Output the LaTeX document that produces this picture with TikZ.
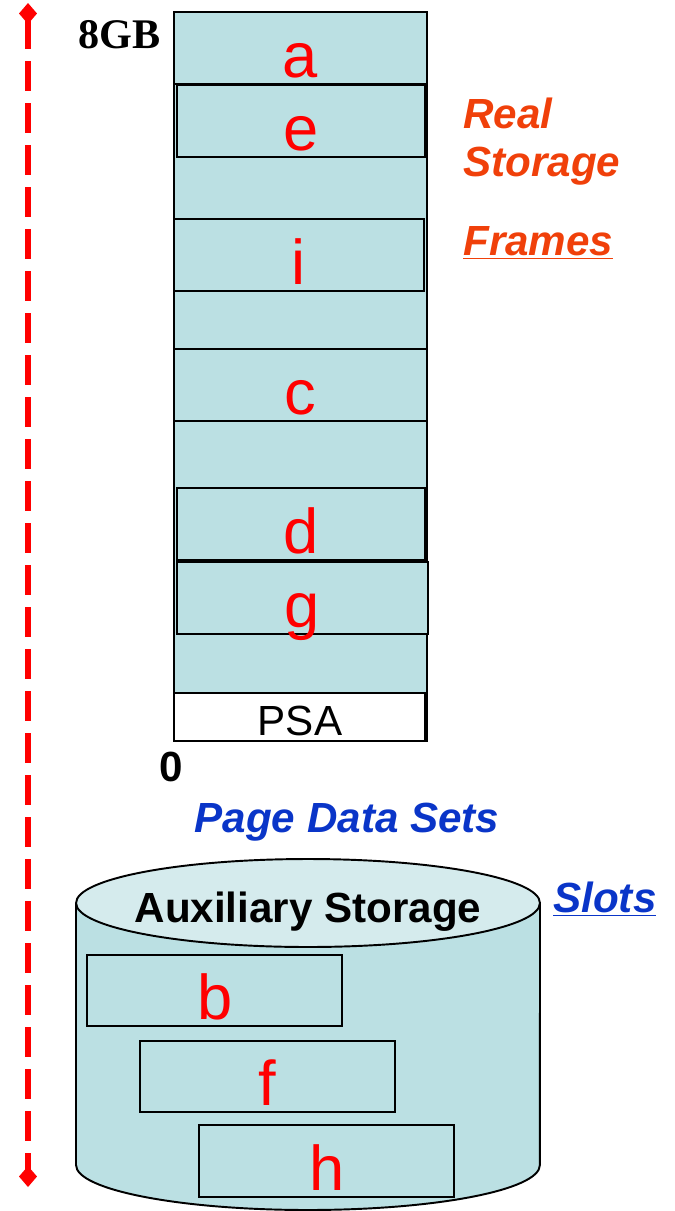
\documentclass[tikz,border=0pt]{standalone}
\usepackage{fontspec}
\setmainfont{Liberation Sans}
\newfontfamily\serifbf{Liberation Serif}
\usetikzlibrary{arrows.meta}
\definecolor{memfill}{RGB}{187,224,227}
\definecolor{memtop}{RGB}{213,235,237}
\definecolor{pgred}{RGB}{255,0,0}
\definecolor{realor}{RGB}{240,64,10}
\definecolor{auxblue}{RGB}{10,53,200}
\tikzset{
  frame/.style={draw=black,line width=1.1pt,fill=memfill},
  pglabel/.style={text=pgred,anchor=base,inner sep=0pt,font=\fontsize{36}{40}\selectfont},
  bigtext/.style={inner sep=0pt,font=\fontsize{24}{28}\selectfont\bfseries},
}

\begin{document}
\begin{tikzpicture}[x=0.02cm,y=-0.02cm]
\useasboundingbox (0,0) rectangle (675,1211);
% address line
\coordinate (top) at (28,3);
\coordinate (bot) at (28,1187);
\draw[pgred,line width=0.12cm,dash pattern=on 0.6cm off 0.24cm,
  {Diamond[length=0.42cm,width=0.36cm]}-{Diamond[length=0.42cm,width=0.36cm]}] (top) -- (bot);
% real storage
\draw[frame] (174,12) rectangle (427,741);
\draw[frame] (174,12) rectangle (427,84);
\draw[frame] (177,85) rectangle (425,157);
\draw[frame] (174,219) rectangle (424,291);
\draw[frame] (174,349) rectangle (427,421);
\draw[frame] (177,488) rectangle (425,560);
\draw[frame] (177,562) rectangle (428,634);
\draw[frame,fill=white] (174,693) rectangle (425,741);
\node[pglabel] (la) at (300,77) {a};
\node[pglabel] (le) at (301,150) {e};
\node[pglabel] (li) at (299,284) {i};
\node[pglabel] (lc) at (300,414) {c};
\node[pglabel] (ld) at (301,553) {d};
\node[pglabel] (lg) at (302,627) {g};
\node[anchor=base,inner sep=0pt,font=\fontsize{24}{28}\selectfont] (psa) at (300,735) {PSA};
\node[anchor=base east,inner sep=0pt,font=\fontsize{24}{27}\serifbf\bfseries] (hi) at (161,48) {8GB};
\node[bigtext,anchor=base] (lo) at (171,781) {0};
\node[bigtext,anchor=base west,text=realor,font=\fontsize{24}{28}\selectfont\bfseries\itshape] (real) at (463,128) {Real};
\node[bigtext,anchor=base west,text=realor,font=\fontsize{24}{28}\selectfont\bfseries\itshape] (stor) at (463,176) {Storage};
\node[bigtext,anchor=base west,text=realor,font=\fontsize{24}{28}\selectfont\bfseries\itshape] (frm) at (463,255) {\underline{Frames}};
% auxiliary storage
\node[bigtext,anchor=base,text=auxblue,font=\fontsize{24}{28}\selectfont\bfseries\itshape] (pds) at (347,832) {Page Data Sets};
\draw[line width=1.1pt,fill=memfill] (76,903) -- (76,1165) arc[start angle=180,end angle=360,x radius=4.64cm,y radius=0.9cm] -- (540,903);
\draw[line width=1.1pt,fill=memtop] (308,903) ellipse [x radius=4.64cm,y radius=0.88cm];
\node[bigtext,anchor=base] (aux) at (308,922) {Auxiliary Storage};
\node[bigtext,anchor=base west,text=auxblue,font=\fontsize{24}{28}\selectfont\bfseries\itshape] (slt) at (553,912) {\underline{Slots}};
\draw[frame] (87,955) rectangle (342,1026);
\draw[frame] (140,1041) rectangle (395,1112);
\draw[frame] (199,1125) rectangle (454,1197);
\node[pglabel] (lb) at (215,1019) {b};
\node[pglabel] (lf) at (267,1105) {f};
\node[pglabel] (lh) at (327,1190) {h};
\end{tikzpicture}
\end{document}
